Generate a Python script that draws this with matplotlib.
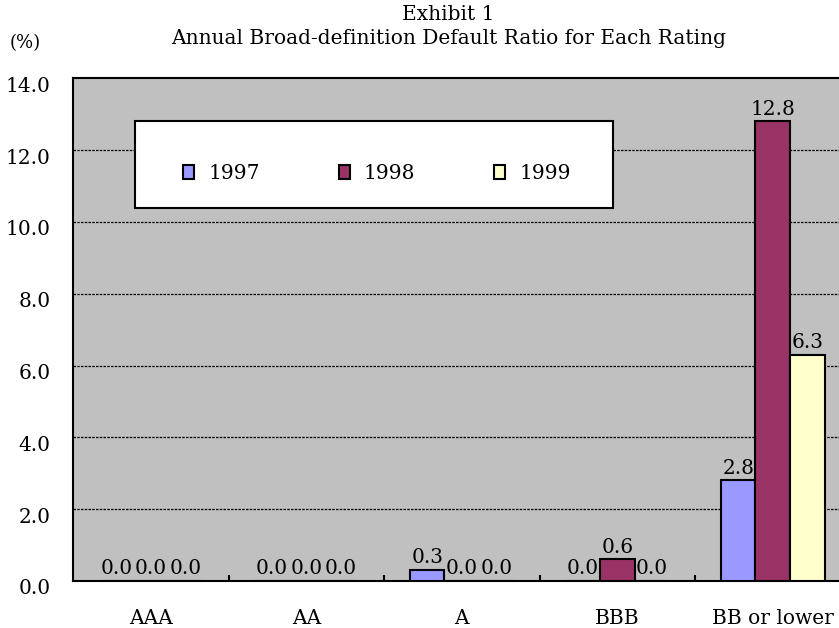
import matplotlib
matplotlib.use("Agg")
import matplotlib.pyplot as plt
import matplotlib.transforms as mtransforms
from matplotlib.patches import Rectangle
from matplotlib.legend_handler import HandlerPatch
import numpy as np

plt.rcParams['font.family'] = ['DejaVu Serif']

ratings = ["AAA", "AA", "A", "BBB", "BB or lower"]
years = ["1997", "1998", "1999"]
ratio_1997 = [0.0, 0.0, 0.3, 0.0, 2.8]
ratio_1998 = [0.0, 0.0, 0.0, 0.6, 12.8]
ratio_1999 = [0.0, 0.0, 0.0, 0.0, 6.3]
colors = ["#9999FF", "#993366", "#FFFFCC"]
yticks = [0, 2, 4, 6, 8, 10, 12, 14]

fs = 14.5

fig = plt.figure(figsize=(8.39, 6.28), dpi=100)
# plot area runs slightly past the right edge of the page
ax = fig.add_axes([73 / 839, 1 - 581 / 628, 777.5 / 839, 502.7 / 628])
ax.set_facecolor("#C0C0C0")

x = np.arange(len(ratings))
w = 0.222
bars = []
for i, (vals, c) in enumerate(zip([ratio_1997, ratio_1998, ratio_1999], colors)):
    b = ax.bar(x + (i - 1) * w, vals, w, color=c, edgecolor="black",
               linewidth=1.5, zorder=3, label=years[i])
    ax.bar_label(b, fmt="%.1f", padding=2, fontsize=fs)
    bars.append(b)

ax.set_xlim(-0.5, len(ratings) - 0.5)
ax.set_ylim(0, 14)
ax.set_yticks(yticks)
ax.set_yticklabels(["%.1f" % v for v in yticks], fontsize=fs)
for v in yticks[1:-1]:
    ax.axhline(v, color="black", lw=0.9, ls=(0, (2, 1)), zorder=1)

ax.set_xticks(x)
ax.set_xticklabels(ratings, fontsize=fs)
ax.set_xticks(np.arange(0.5, len(ratings) - 0.5), minor=True)
ax.tick_params(axis="x", which="major", length=0, pad=20)
ax.tick_params(axis="x", which="minor", direction="in", length=4, width=1.5)
ax.tick_params(axis="y", length=0, pad=16)
for lab in ax.get_yticklabels():
    lab.set_transform(lab.get_transform() +
                      mtransforms.ScaledTranslation(0, -6 / 100, fig.dpi_scale_trans))

for s in ["left", "bottom", "top"]:
    ax.spines[s].set_linewidth(1.5)
ax.spines["right"].set_visible(False)

# legend box
ax.add_patch(Rectangle((0.0797, 0.742), 0.6148, 0.173, transform=ax.transAxes,
                       facecolor="white", edgecolor="black", lw=1.5, zorder=5))


def square(legend, orig_handle, xdescent, ydescent, width, height, fontsize):
    # small square sitting a bit above the label baseline
    s = 0.55 * fontsize
    return Rectangle((-xdescent, -ydescent + 0.8 * fontsize), s, s)


leg = ax.legend(handles=bars, loc="center", bbox_to_anchor=(0.1415, 0.766, 0.499, 0.09),
                mode="expand", ncol=3, frameon=False, fontsize=fs, borderpad=0,
                handlelength=0.55, handletextpad=0.7, borderaxespad=0,
                handler_map={Rectangle: HandlerPatch(patch_func=square)})
for h in leg.legend_handles:
    h.set_linewidth(1.5)
leg.set_zorder(6)

fig.text(448.5 / 839, 1 - 14 / 628, "Exhibit 1", ha="center", va="center", fontsize=fs)
fig.text(448.5 / 839, 1 - 38 / 628, "Annual Broad-definition Default Ratio for Each Rating",
         ha="center", va="center", fontsize=fs)
fig.text(10 / 839, 1 - 43 / 628, "(%)", ha="left", va="center", fontsize=fs - 1.5)

fig.savefig("out.png", dpi=100)
